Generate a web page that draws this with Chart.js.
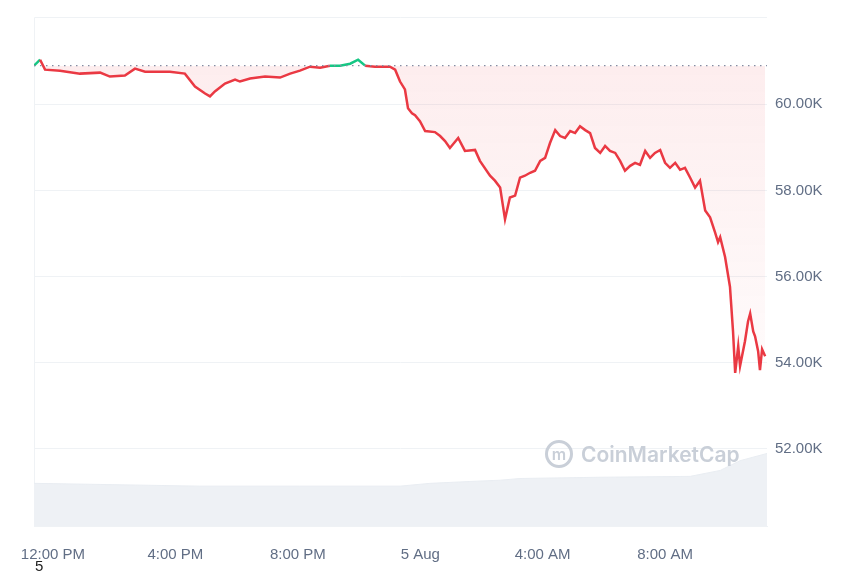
<!DOCTYPE html>
<html><head><meta charset="utf-8">
<script src="https://cdn.jsdelivr.net/npm/chart.js@4"></script>
<style>
html,body{margin:0;padding:0;background:#fff;}
#wrap{position:relative;width:860px;height:573px;}
#wm{position:absolute;left:545px;top:440px;font:600 21px "Inter","Liberation Sans",sans-serif;color:#c9cfd8;display:flex;align-items:center;gap:8px;}
#wm .c{width:28px;height:28px;border:3px solid #c9cfd8;border-radius:50%;box-sizing:border-box;display:flex;align-items:center;justify-content:center;font-size:16px;}
#five{position:absolute;left:35px;top:557px;font:15px "Liberation Sans",Arial,sans-serif;color:#222;}
</style></head><body>
<div id="wrap"><canvas id="c" width="860" height="573"></canvas>
<div id="wm"><div class="c">m</div>CoinMarketCap</div>
<div id="five">5</div></div>
<script>
const baseline = 60899;
const hours = [-0.62,-0.42,-0.26,0.23,0.88,1.54,1.86,2.35,2.68,3.01,3.82,4.31,4.64,4.97,5.13,5.29,5.62,5.95,6.11,6.44,6.93,7.42,7.75,8.07,8.40,8.73,9.05,9.38,9.71,9.97,10.20,10.52,11.01,11.18,11.34,11.50,11.60,11.73,11.83,11.99,12.16,12.48,12.65,12.81,12.97,13.24,13.46,13.79,13.95,14.28,14.44,14.61,14.77,14.93,15.10,15.26,15.42,15.59,15.75,15.92,16.08,16.24,16.41,16.57,16.73,16.90,17.06,17.22,17.39,17.55,17.71,17.88,18.04,18.20,18.37,18.53,18.69,18.86,19.02,19.18,19.35,19.51,19.67,19.84,20.00,20.16,20.33,20.49,20.65,20.82,20.98,21.14,21.31,21.47,21.63,21.73,21.80,21.96,22.12,22.22,22.29,22.39,22.45,22.61,22.71,22.78,22.88,22.94,23.04,23.10,23.17,23.27];
const prices = [60899,61037,60806,60783,60714,60737,60645,60668,60829,60760,60760,60714,60415,60253,60184,60300,60484,60576,60530,60599,60645,60622,60714,60783,60876,60852,60899,60899,60945,61037,60899,60876,60876,60806,60530,60346,59908,59793,59747,59608,59378,59355,59263,59148,58986,59217,58917,58940,58687,58341,58226,58065,57327,57834,57880,58295,58341,58410,58456,58687,58756,59101,59401,59263,59217,59378,59332,59493,59401,59332,58986,58871,59032,58917,58871,58687,58456,58571,58641,58595,58917,58756,58871,58940,58641,58525,58641,58479,58525,58295,58065,58226,57535,57373,57028,56797,56913,56452,55761,54724,53757,54378,53917,54493,54954,55139,54724,54609,54263,53825,54309,54148];
const volHours = [-0.62,1.54,4.80,8.07,11.34,12.32,13.63,14.61,15.26,17.88,20.82,21.80,22.45,23.33];
const volumes = [1.006,0.98,0.94,0.94,0.94,1.006,1.05,1.08,1.12,1.15,1.17,1.31,1.54,1.71];
const yTicks = [52000,54000,56000,58000,60000];
const xTicks = [0,4,8,12,16,20];
const xLabels = ['12:00 PM','4:00 PM','8:00 PM','5 Aug','4:00 AM','8:00 AM'];

const RED='#ea3943', GREEN='#16c784';
function grad(ctx){const a=ctx.chart.chartArea; if(!a) return 'rgba(234,57,67,0.05)';
  const g=ctx.chart.ctx.createLinearGradient(0,a.top+50,0,a.bottom-120);
  g.addColorStop(0,'rgba(234,57,67,0.09)');g.addColorStop(1,'rgba(234,57,67,0.01)');return g;}
new Chart(document.getElementById('c'),{
  type:'line',
  data:{datasets:[
    {data:hours.map((h,i)=>({x:h,y:prices[i]})),borderColor:RED,borderWidth:2.5,pointRadius:0,tension:0,
     fill:{target:{value:baseline},above:'rgba(0,0,0,0)',below:grad},
     segment:{borderColor:c=>(c.p0.parsed.y>=baseline-5&&c.p1.parsed.y>=baseline-5)?GREEN:RED},order:1},
    {data:[{x:-0.62,y:baseline},{x:23.33,y:baseline}],borderColor:'#858ca2',borderWidth:1.2,borderDash:[1.5,4.5],pointRadius:0,fill:false,order:0},
    {data:volHours.map((h,i)=>({x:h,y:volumes[i]})),yAxisID:'v',borderColor:'#e9edf2',borderWidth:1,backgroundColor:'#eef1f5',fill:'origin',pointRadius:0,order:3}
  ]},
  options:{responsive:false,animation:false,
    layout:{padding:{left:34,top:13,right:0,bottom:0}},
    plugins:{legend:{display:false},tooltip:{enabled:false}},
    scales:{
      x:{type:'linear',min:-0.62,max:23.33,
        afterBuildTicks:s=>{s.ticks=xTicks.map(v=>({value:v}));},
        afterFit:s=>{s.height=47;},
        ticks:{callback:(v)=>xLabels[xTicks.indexOf(v)],color:'#616e85',font:{size:15,family:'Liberation Sans'},maxRotation:0,padding:12},
        grid:{display:false},border:{display:true,color:'#eff2f5'}},
      y:{position:'right',min:50200,max:62030,
        afterBuildTicks:s=>{s.ticks=yTicks.map(v=>({value:v}));},
        afterFit:s=>{s.width=93;},
        ticks:{callback:v=>(v/1000).toFixed(2)+'K',color:'#616e85',font:{size:15,family:'Liberation Sans'},padding:8},
        grid:{color:'#eff2f5',drawTicks:false},border:{display:false}},
      v:{display:false,min:0,max:12}
    }
  },
  plugins:[{id:'frame',beforeDatasetsDraw(ch){const a=ch.chartArea,c=ch.ctx;c.save();c.strokeStyle='#eff2f5';c.lineWidth=1;c.beginPath();c.moveTo(a.left+0.5,a.bottom);c.lineTo(a.left+0.5,a.top+0.5);c.lineTo(a.right,a.top+0.5);c.stroke();c.restore();}}]
});
</script></body></html>
